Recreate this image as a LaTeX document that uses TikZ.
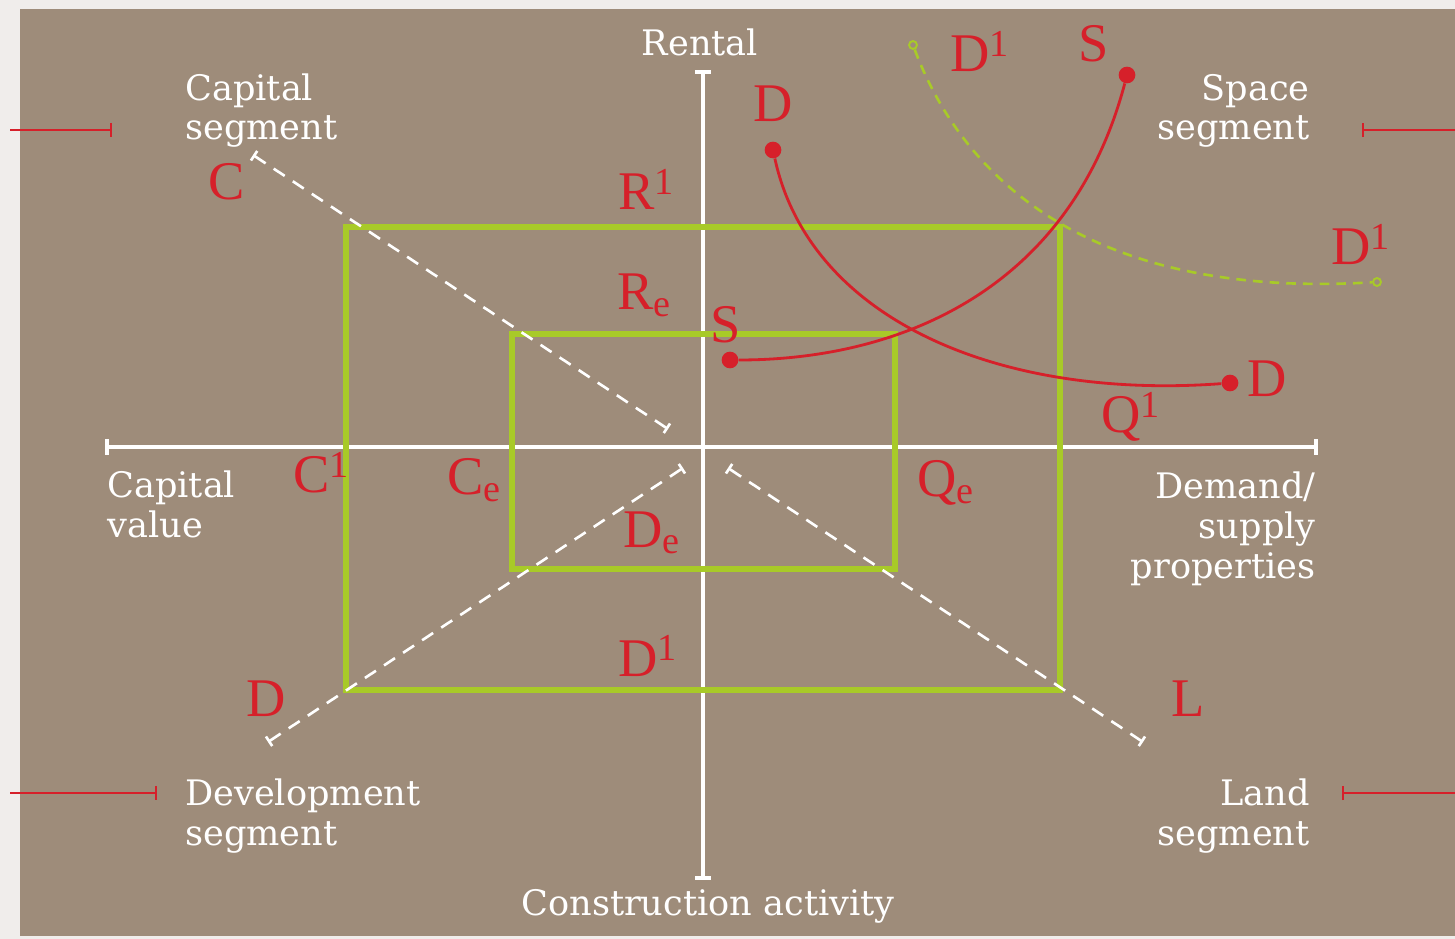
\documentclass[tikz,border=0pt]{standalone}
\usepackage{fontspec}
\setmainfont{DejaVu Serif}
\newfontfamily\symfont{Liberation Serif}
\usepackage{xcolor}
\usetikzlibrary{arrows.meta}
\definecolor{bgbrown}{RGB}{158,140,122}
\definecolor{pagegray}{RGB}{240,237,235}
\definecolor{lime}{RGB}{168,202,40}
\definecolor{redline}{RGB}{214,32,42}

\begin{document}
\begin{tikzpicture}[x=0.02cm, y=-0.02cm,
      axis/.style={draw=white, line width=2.3pt, {Bar[width=9pt]}-{Bar[width=9pt]}},
      seg/.style={draw=white, line width=1.5pt, dash pattern=on 7.5pt off 5.5pt,
        {Bar[width=6.5pt]}-{Bar[width=6.5pt]}},
      box/.style={draw=lime, line width=3.4pt},
      curve/.style={draw=redline, line width=1.6pt},
      shiftd/.style={draw=lime, line width=1.5pt, dash pattern=on 5.5pt off 4pt},
      marker/.style={draw=redline, line width=1.2pt, -{Bar[width=8pt]}},
      lbl/.style={text=white, inner sep=0pt, font=\fontsize{20}{22.5}\selectfont},
      sym/.style={text=redline, inner sep=0pt, anchor=base west,
        font=\symfont\fontsize{31}{32}\selectfont},
      dot/.style={circle, fill=redline, inner sep=0pt, minimum size=9.5pt},
      ring/.style={circle, draw=lime, line width=1.1pt, inner sep=0pt, minimum size=4.5pt}]
    % page and panel
    \useasboundingbox (0,0) rectangle (1455,939);
    \fill[pagegray] (0,0) rectangle (1455,939);
    \fill[bgbrown] (20,9) rectangle (1455,936);

    % axes
    \coordinate (xl) at (105,447);
    \coordinate (xr) at (1318,447);
    \coordinate (yt) at (703,70);
    \coordinate (yb) at (703,880);
    \draw[axis] (xl)--(xr);
    \draw[axis] (yt)--(yb);

    % equilibrium boxes
    \draw[box] (346,227) rectangle (1060,690);
    \draw[box] (512,334) rectangle (895,569);

    % segment lines
    \coordinate (ca) at (253,155);
    \coordinate (cb) at (668,429);
    \coordinate (da) at (268,742);
    \coordinate (db) at (683,468);
    \coordinate (la) at (1143,742);
    \coordinate (lb) at (728,468);
    \draw[seg] (ca)--(cb);
    \draw[seg] (da)--(db);
    \draw[seg] (la)--(lb);

    % demand and supply curves
    \node[dot] (dtop) at (773,150) {};
    \node[dot] (dend) at (1230,383) {};
    \node[dot] (sbot) at (730,360) {};
    \node[dot] (stop) at (1127,75) {};
    \draw[curve] (dtop) .. controls (810,320) and (1000,400) .. (dend);
    \draw[curve] (sbot) .. controls (900,360) and (1070,290) .. (stop);

    % shifted demand
    \node[ring] (dsa) at (913,45) {};
    \node[ring] (dsb) at (1377,282) {};
    \draw[shiftd] (dsa) .. controls (960,170) and (1080,300) .. (dsb);

    % side markers
    \coordinate (m1a) at (10,130);
    \coordinate (m1b) at (112,130);
    \coordinate (m2a) at (1455,130);
    \coordinate (m2b) at (1362,130);
    \coordinate (m3a) at (10,793);
    \coordinate (m3b) at (157,793);
    \coordinate (m4a) at (1455,793);
    \coordinate (m4b) at (1342,793);
    \draw[marker] (m1a)--(m1b);
    \draw[marker] (m2a)--(m2b);
    \draw[marker] (m3a)--(m3b);
    \draw[marker] (m4a)--(m4b);

    % axis and segment labels (base = last line)
    \node[lbl, anchor=base] (rental) at (700,56) {Rental};
    \node[lbl, anchor=base] (constr) at (708,915) {Construction activity};
    \node[lbl, anchor=base west, align=left] (capseg) at (185,140) {Capital\\segment};
    \node[lbl, anchor=base east, align=right] (spaceseg) at (1310,140) {Space\\segment};
    \node[lbl, anchor=base west, align=left] (capval) at (107,537) {Capital\\value};
    \node[lbl, anchor=base east, align=right] (demand) at (1316,578) {Demand/\\supply\\properties};
    \node[lbl, anchor=base west, align=left] (devseg) at (185,845) {Development\\segment};
    \node[lbl, anchor=base east, align=right] (landseg) at (1310,845) {Land\\segment};

    % curve and box symbols
    \node[sym] (symc) at (208,200) {C};
    \node[sym] (symrone) at (618,210) {R\textsuperscript{1}};
    \node[sym] (symre) at (617,310) {R\textsubscript{e}};
    \node[sym] (syms) at (710,343) {S};
    \node[sym] (symdtop) at (753,122) {D};
    \node[sym] (symdonetop) at (950,72) {D\textsuperscript{1}};
    \node[sym] (symstop) at (1078,62) {S};
    \node[sym] (symdoneright) at (1331,265) {D\textsuperscript{1}};
    \node[sym] (symdright) at (1247,397) {D};
    \node[sym] (symqone) at (1101,433) {Q\textsuperscript{1}};
    \node[sym] (symcone) at (293,493) {C\textsuperscript{1}};
    \node[sym] (symce) at (447,495) {C\textsubscript{e}};
    \node[sym] (symqe) at (917,497) {Q\textsubscript{e}};
    \node[sym] (symde) at (623,547) {D\textsubscript{e}};
    \node[sym] (symdonebot) at (618,676) {D\textsuperscript{1}};
    \node[sym] (symdbot) at (246,716) {D};
    \node[sym] (syml) at (1171,716) {L};
  \end{tikzpicture}
\end{document}
